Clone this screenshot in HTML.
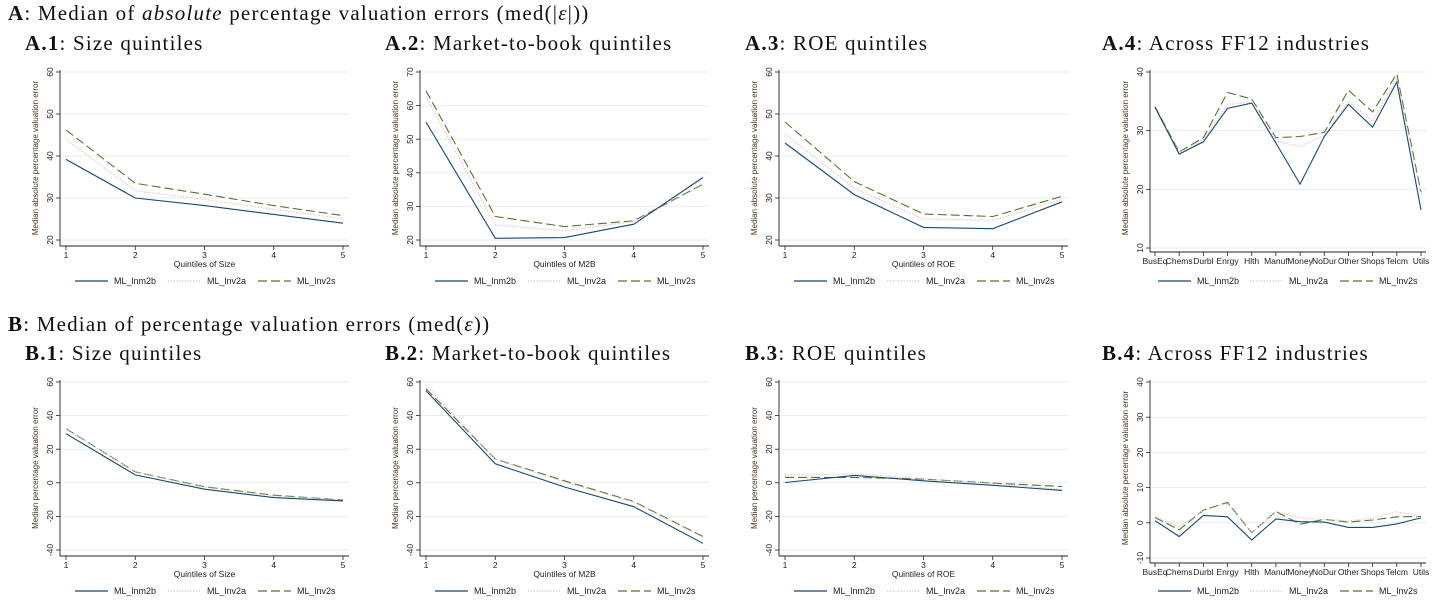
<!DOCTYPE html>
<html><head><meta charset="utf-8">
<style>
body{margin:0;background:#fff;width:1455px;height:614px;overflow:hidden}
svg{display:block}
.ttl{font-family:"Liberation Serif",serif;font-size:21px;letter-spacing:1.2px;fill:#111}
.tk{font-family:"Liberation Sans",sans-serif;font-size:8.5px;fill:#222}
.yt{font-family:"Liberation Sans",sans-serif;font-size:8px;fill:#4a3520}
.lg{font-family:"Liberation Sans",sans-serif;font-size:9px;fill:#222}
</style></head><body>
<svg id="fig" width="1455" height="614" xmlns="http://www.w3.org/2000/svg">
<text class="ttl" x="8" y="20"><tspan font-weight="bold">A</tspan>: Median of <tspan font-style="italic">absolute</tspan> percentage valuation errors (med(|<tspan font-style="italic">ε</tspan>|))</text>
<text class="ttl" x="25" y="50"><tspan font-weight="bold">A.1</tspan>: Size quintiles</text>
<text class="ttl" x="385" y="50"><tspan font-weight="bold">A.2</tspan>: Market-to-book quintiles</text>
<text class="ttl" x="745" y="50"><tspan font-weight="bold">A.3</tspan>: ROE quintiles</text>
<text class="ttl" x="1102" y="50"><tspan font-weight="bold">A.4</tspan>: Across FF12 industries</text>
<text class="ttl" x="8" y="331"><tspan font-weight="bold">B</tspan>: Median of percentage valuation errors (med(<tspan font-style="italic">ε</tspan>))</text>
<text class="ttl" x="25" y="360"><tspan font-weight="bold">B.1</tspan>: Size quintiles</text>
<text class="ttl" x="385" y="360"><tspan font-weight="bold">B.2</tspan>: Market-to-book quintiles</text>
<text class="ttl" x="745" y="360"><tspan font-weight="bold">B.3</tspan>: ROE quintiles</text>
<text class="ttl" x="1102" y="360"><tspan font-weight="bold">B.4</tspan>: Across FF12 industries</text>
</svg>
<script>
const quintiles = ["1","2","3","4","5"];
const industries = ["BusEq","Chems","Durbl","Enrgy","Hlth","Manuf","Money","NoDur","Other","Shops","Telcm","Utils"];
const seriesNames = ["ML_lnm2b","ML_lnv2a","ML_lnv2s"];
const legendLabels = ["ML_lnm2b","ML_lnv2a","ML_lnv2s"];

const a1_lnm2b=[39.2,30.0,28.2,26.1,24.0], a1_lnv2a=[44.0,31.7,29.7,27.3,25.1], a1_lnv2s=[46.2,33.5,30.9,28.2,25.8];
const a2_lnm2b=[55.1,20.5,20.7,24.7,38.6], a2_lnv2a=[62.7,24.5,22.7,25.5,36.4], a2_lnv2s=[64.4,27.0,24.0,25.7,36.6];
const a3_lnm2b=[43.1,30.8,23.0,22.7,29.1], a3_lnv2a=[45.3,32.3,25.0,24.7,29.7], a3_lnv2s=[48.1,33.9,26.2,25.6,30.4];
const a4_lnm2b=[34.0,26.0,28.1,33.8,34.7,27.9,20.9,29.0,34.5,30.6,38.3,16.5];
const a4_lnv2a=[34.0,26.3,28.5,34.5,34.8,28.2,27.3,29.2,35.0,31.6,39.0,19.0];
const a4_lnv2s=[34.1,26.4,28.8,36.5,35.4,28.8,29.0,29.7,36.9,33.2,39.7,19.5];
const b1_lnm2b=[29.2,4.7,-3.8,-8.8,-10.8], b1_lnv2a=[32.0,6.4,-2.6,-7.8,-10.2], b1_lnv2s=[32.2,6.5,-2.4,-7.4,-10.2];
const b2_lnm2b=[54.8,11.3,-2.5,-14.2,-36.0], b2_lnv2a=[58.0,14.0,0.5,-11.5,-32.5], b2_lnv2s=[56.0,14.1,1.2,-11.2,-32.0];
const b3_lnm2b=[0.2,4.4,1.2,-1.5,-4.5], b3_lnv2a=[4.6,5.3,2.5,-0.5,-4.0], b3_lnv2s=[3.2,3.2,2.2,-0.2,-2.2];
const b4_lnm2b=[0.6,-3.9,2.1,1.7,-4.9,1.1,0.3,0.2,-1.3,-1.3,-0.3,1.4];
const b4_lnv2a=[1.8,-1.2,3.5,5.5,-2.8,3.2,1.4,1.0,0.5,1.4,3.2,1.6];
const b4_lnv2s=[1.5,-2.0,3.6,5.8,-2.8,3.2,-0.4,1.0,0.2,0.8,1.7,1.8];
const ticksA=[20,30,40,50,60], ticksA2=[20,30,40,50,60,70], ticksA4=[10,20,30,40];
const ticksB=[-40,-20,0,20,40,60], ticksB4=[-10,0,10,20,30,40];

const NS="http://www.w3.org/2000/svg";
const fig=document.getElementById('fig');
const colors=["#1a476f","#e3b9c2","#55752f"];
const dashes=["none","1.2,1.6","9,4"];
const widths=[1.1,1.1,1.1];
function mk(tag,attrs,parent){const e=document.createElementNS(NS,tag);for(const k in attrs)e.setAttribute(k,attrs[k]);(parent||fig).appendChild(e);return e;}

function panel(p){
  const g=mk('g',{});
  
  
  const ind=p.cats.length>5;
  const axX=p.ox+60, right=p.ox+(ind?336:349);
  const x0=p.ox+(ind?65:66), x1=p.ox+(ind?331:343);
  const yTop=p.oy+72, yBot=p.oy+(p.botPx), axY=p.oy+(p.axPx);
  const tmin=p.ticks[0], tmax=p.ticks[p.ticks.length-1];
  const X=i=>x0+(x1-x0)*i/(p.cats.length-1);
  const Y=v=>yBot-(v-tmin)/(tmax-tmin)*(yBot-yTop);
  p.ticks.forEach(t=>{
    const gl=mk('line',{x1:axX,x2:right,y1:Y(t),y2:Y(t),stroke:"#e6eef0","stroke-width":1},g);
    
    
    const tm=mk('line',{x1:axX-4,x2:axX,y1:Y(t),y2:Y(t),stroke:"#222","stroke-width":0.8},g);
    
    
    const tl=mk('text',{class:'tk',x:axX-7,y:Y(t),'text-anchor':'middle',transform:`rotate(-90 ${axX-7} ${Y(t)})`},g);
    tl.textContent=String(t);
    
    
  });
  const ya=mk('line',{x1:axX,x2:axX,y1:p.oy+70,y2:axY,stroke:"#222","stroke-width":0.9},g);
  
  
  const xa=mk('line',{x1:axX,x2:right,y1:axY,y2:axY,stroke:"#222","stroke-width":0.9},g);
  
  
  p.cats.forEach((c,i)=>{
    const tm=mk('line',{x1:X(i),x2:X(i),y1:axY,y2:axY+4,stroke:"#222","stroke-width":0.8},g);
    
    
    const tl=mk('text',{class:'tk',x:X(i),y:axY+12,'text-anchor':'middle'},g);
    tl.textContent=c;
    
    
  });
  if(p.xtitle){
    const xt=mk('text',{class:'tk',x:(axX+right)/2,y:axY+21,'text-anchor':'middle'},g);
    xt.textContent=p.xtitle;
    
    
  }
  const ytx=axX-22, yty=p.oy+158;
  const yt=mk('text',{class:'yt',x:ytx,y:yty,'text-anchor':'middle',transform:`rotate(-90 ${ytx} ${yty})`},g);
  yt.textContent=p.ytitle;
  
  
  [2,1,0].forEach(s=>{
    const d=p.series[s].map((v,i)=>(i?'L':'M')+X(i).toFixed(1)+','+Y(v).toFixed(1)).join(' ');
    const path=mk('path',{d:d,fill:'none',stroke:colors[s],'stroke-width':widths[s],'stroke-dasharray':dashes[s]},g);
    
    
  });
  const ly=p.oy+281;
  const lx=ind?[p.ox+68,p.ox+160,p.ox+250]:[p.ox+75,p.ox+168,p.ox+258];
  legendLabels.forEach((lab,s)=>{
    const ll=mk('line',{x1:lx[s],x2:lx[s]+33,y1:ly,y2:ly,stroke:colors[s],'stroke-width':1.2,'stroke-dasharray':dashes[s]},g);
    
    
    const lt=mk('text',{class:'lg',x:lx[s]+39,y:ly+3},g);
    lt.textContent=lab;
    
    
  });
}
const yAbs="Median absolute percentage valuation error", yPct="Median percentage valuation error";
panel({name:'chart-a1',ox:0,oy:0,cats:quintiles,ticks:ticksA,botPx:240,axPx:246,xtitle:'Quintiles of Size',ytitle:yAbs,series:[a1_lnm2b,a1_lnv2a,a1_lnv2s]});
panel({name:'chart-a2',ox:360,oy:0,cats:quintiles,ticks:ticksA2,botPx:240,axPx:246,xtitle:'Quintiles of M2B',ytitle:yAbs,series:[a2_lnm2b,a2_lnv2a,a2_lnv2s]});
panel({name:'chart-a3',ox:719,oy:0,cats:quintiles,ticks:ticksA,botPx:240,axPx:246,xtitle:'Quintiles of ROE',ytitle:yAbs,series:[a3_lnm2b,a3_lnv2a,a3_lnv2s]});
panel({name:'chart-a4',ox:1090,oy:0,cats:industries,ticks:ticksA4,botPx:248,axPx:252,xtitle:'',ytitle:yAbs,series:[a4_lnm2b,a4_lnv2a,a4_lnv2s]});
panel({name:'chart-b1',ox:0,oy:310,cats:quintiles,ticks:ticksB,botPx:240,axPx:246,xtitle:'Quintiles of Size',ytitle:yPct,series:[b1_lnm2b,b1_lnv2a,b1_lnv2s]});
panel({name:'chart-b2',ox:360,oy:310,cats:quintiles,ticks:ticksB,botPx:240,axPx:246,xtitle:'Quintiles of M2B',ytitle:yPct,series:[b2_lnm2b,b2_lnv2a,b2_lnv2s]});
panel({name:'chart-b3',ox:719,oy:310,cats:quintiles,ticks:ticksB,botPx:240,axPx:246,xtitle:'Quintiles of ROE',ytitle:yPct,series:[b3_lnm2b,b3_lnv2a,b3_lnv2s]});
panel({name:'chart-b4',ox:1090,oy:310,cats:industries,ticks:ticksB4,botPx:248,axPx:253,xtitle:'',ytitle:yAbs,series:[b4_lnm2b,b4_lnv2a,b4_lnv2s]});
</script>
</body></html>
